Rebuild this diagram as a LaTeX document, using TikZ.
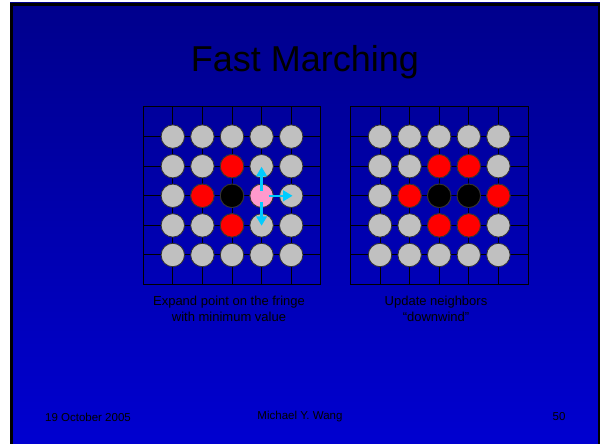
\documentclass[tikz,border=0pt]{standalone}
\usepackage{fontspec}
\setmainfont{Liberation Sans}
\usetikzlibrary{arrows.meta}

\definecolor{slidetop}{RGB}{0,0,140}
\definecolor{slidebot}{RGB}{0,0,208}
\definecolor{dotgray}{RGB}{192,192,192}
\definecolor{dotred}{RGB}{255,0,0}
\definecolor{dotpink}{RGB}{255,153,204}
\definecolor{arrowcyan}{RGB}{0,204,255}

\tikzset{
  cell/.style={circle, draw=black!80, line width=0.8pt, fill=#1,
    minimum size=23.4pt, inner sep=0pt},
  gridline/.style={black, line width=1pt},
  fmarrow/.style={arrowcyan, line width=2.3pt,
    -{Triangle[length=9.5pt,width=10.5pt]}},
  caption/.style={align=center, font=\fontsize{13}{16}\selectfont},
  footer/.style={font=\fontsize{11.5}{13}\selectfont}
}

\begin{document}
\begin{tikzpicture}[x=1pt,y=1pt]

        \useasboundingbox (0,0) rectangle (600,444);

        % Slide background
        \shade[top color=slidetop, bottom color=slidebot]
            (10,0) rectangle (600,441);
        \draw[line width=3pt] (11.5,0) -- (11.5,439.5) -- (598,439.5);
        \draw[line width=2pt] (599,441) -- (599,0);

        % Title
        \node[font=\fontsize{36}{40}\selectfont, anchor=base] (title)
            at (305,372) {Fast Marching};

        % Grids, left at 143.2 and right at 350.4
        \foreach \g/\xo in {L/143.2, R/350.4} {
            \draw[gridline] (\xo,337) rectangle ++(177.6,-177.6);
            \foreach \i in {1,...,5} {
                \draw[gridline] (\xo+\i*29.6,337) -- ++(0,-177.6);
                \draw[gridline] (\xo,337-\i*29.6) -- ++(177.6,0);
            }
            % Points at the crossings
            \foreach \r in {1,...,5}
                \foreach \c in {1,...,5}
                    \node[cell=dotgray] (\g-\r-\c)
                        at (\xo+\c*29.6,337-\r*29.6) {};
        }

        % Fringe and accepted points
        \foreach \g/\r/\c/\col in {L/2/3/dotred, L/3/2/dotred, L/4/3/dotred,
                L/3/3/black, L/3/4/dotpink,
                R/2/3/dotred, R/2/4/dotred, R/3/2/dotred, R/3/5/dotred,
                R/4/3/dotred, R/4/4/dotred, R/3/3/black, R/3/4/black}
            \node[cell=\col] at (\g-\r-\c) {};

        % Expanding the pink point
        \draw[fmarrow] ([yshift=5pt]L-3-4.center) -- ([yshift=29pt]L-3-4.center);
        \draw[fmarrow] ([xshift=7pt]L-3-4.center) -- ([xshift=31pt]L-3-4.center);
        \draw[fmarrow] ([yshift=-6pt]L-3-4.center) -- ([yshift=-30pt]L-3-4.center);

        % Captions
        \node[caption] (capL) at (229,135)
            {Expand point on the fringe\\with minimum value};
        \node[caption] (capR) at (436,135)
            {Update neighbors\\``downwind''};

        % Footer
        \node[footer] (date) at (88,27) {19 October 2005};
        \node[footer] (name) at (300,27) {Michael Y. Wang};
        \node[footer] (page) at (559,27) {50};

    \end{tikzpicture}
\end{document}
